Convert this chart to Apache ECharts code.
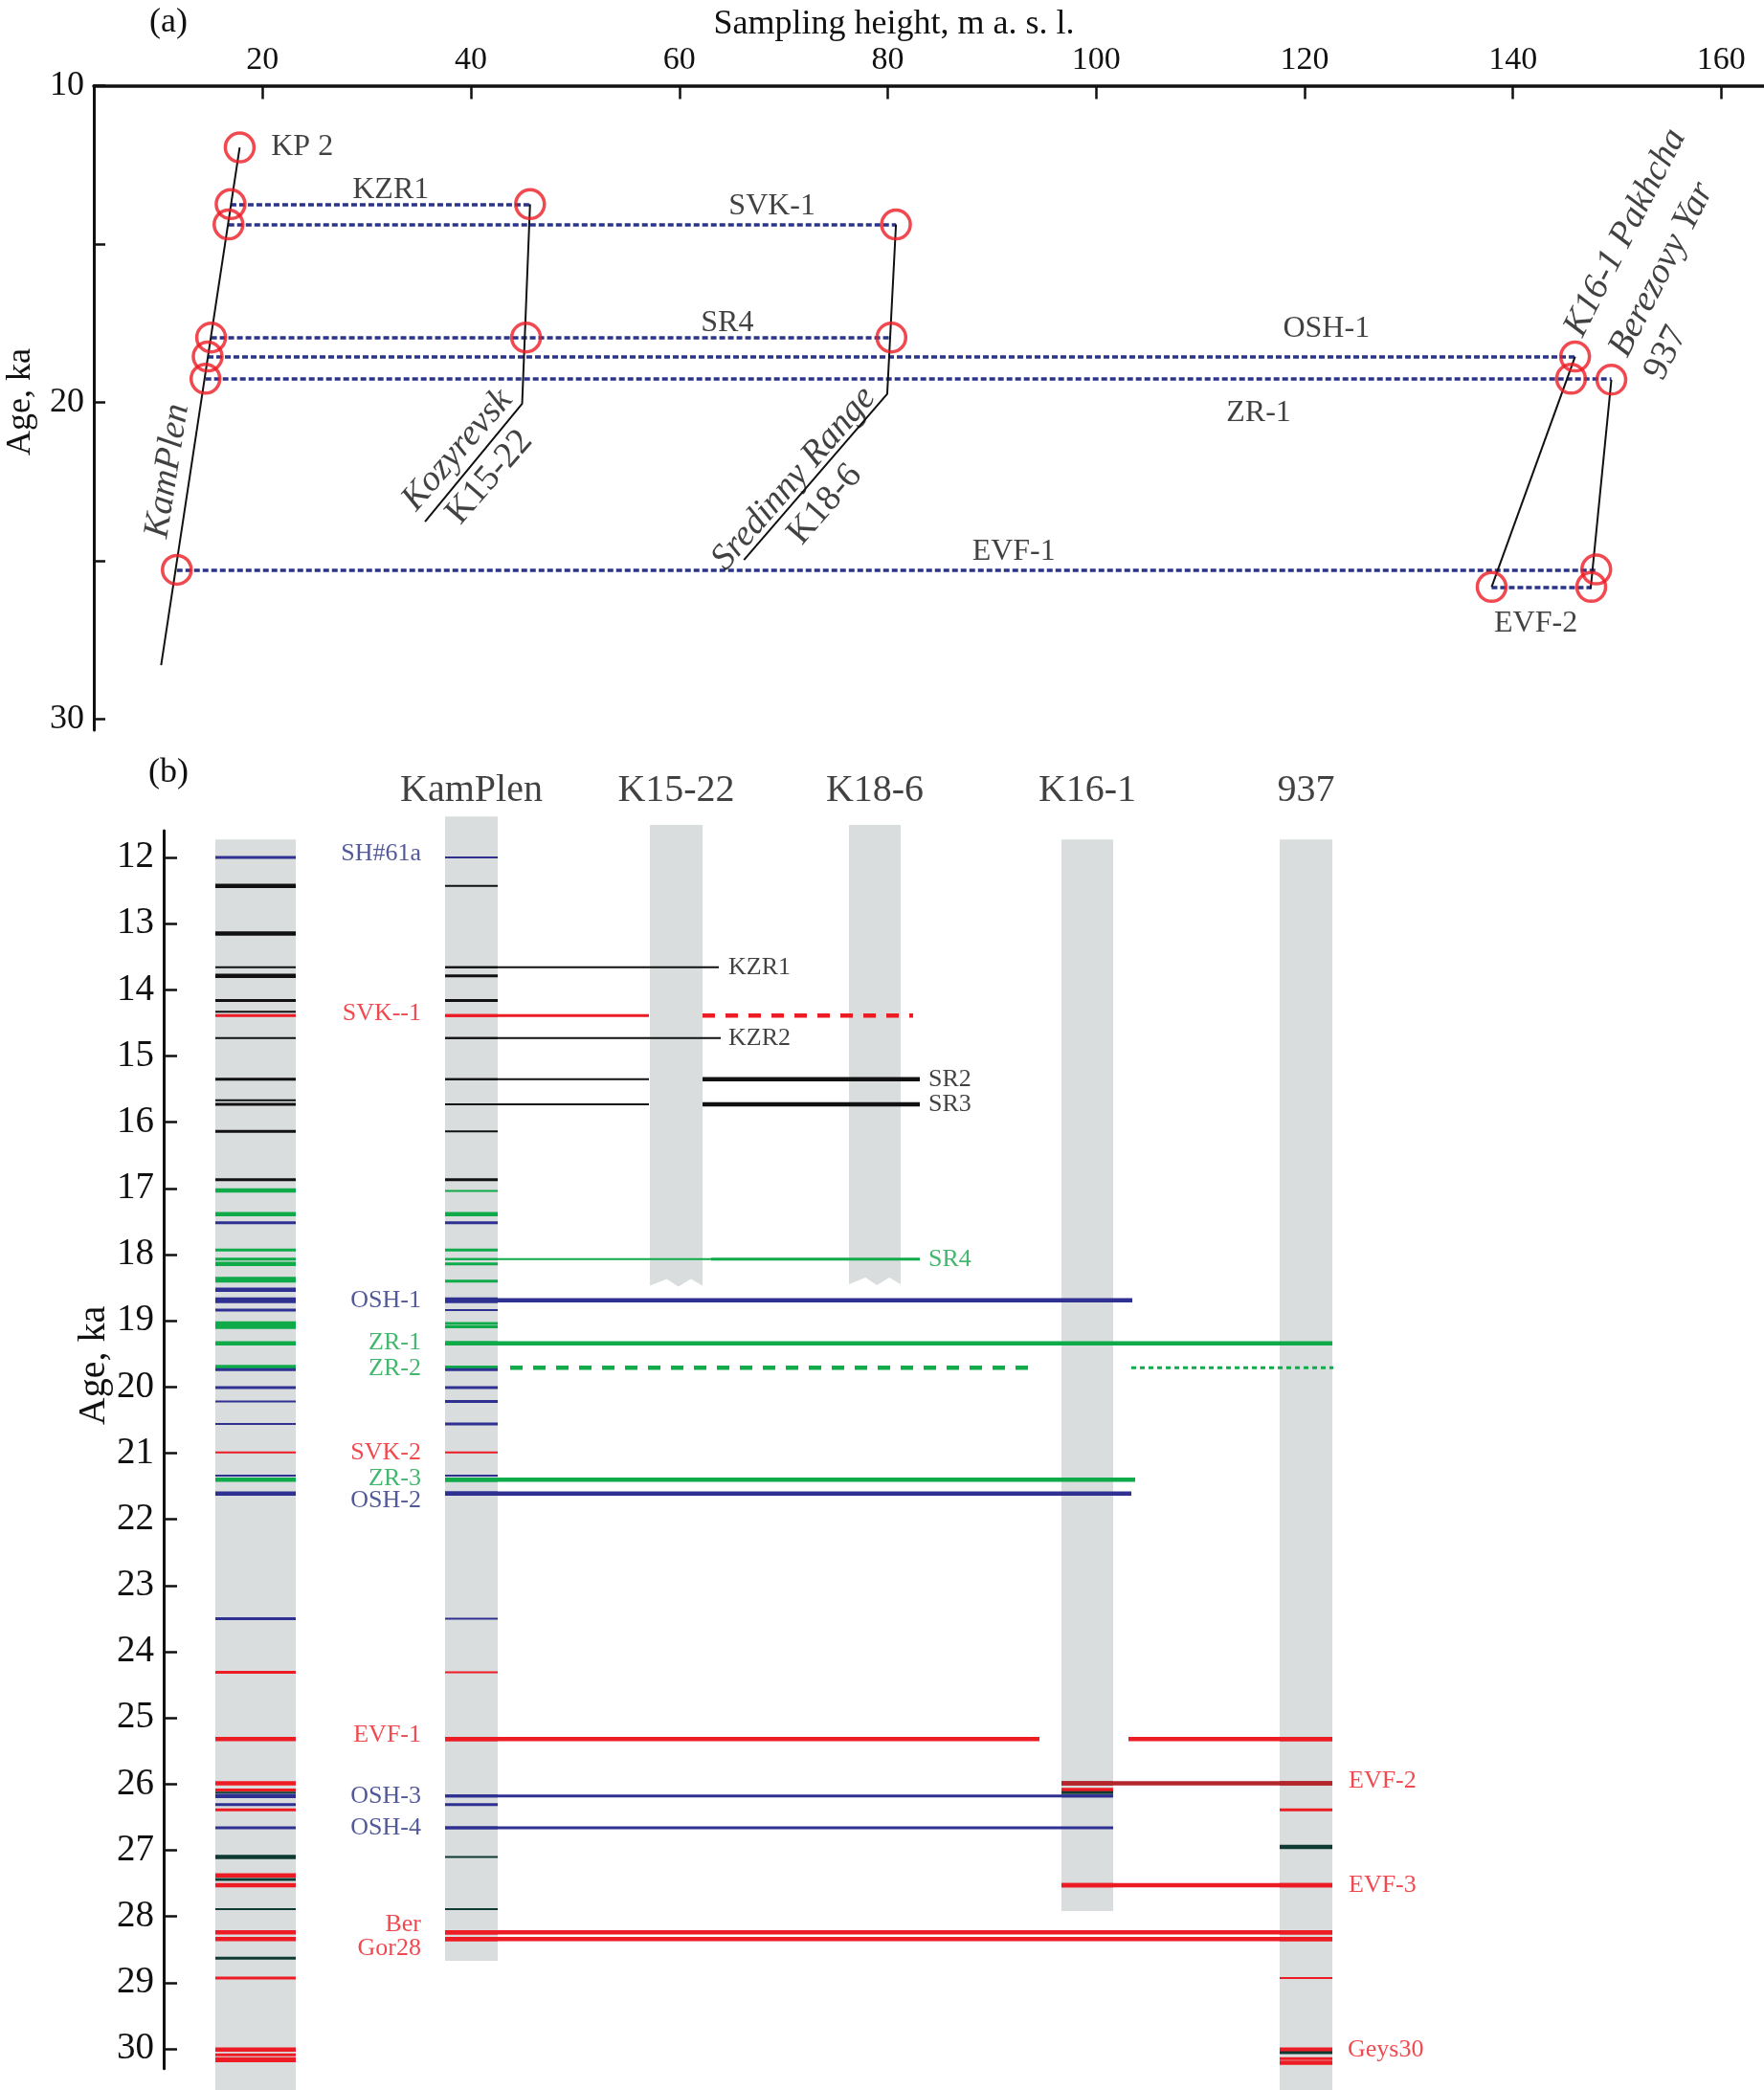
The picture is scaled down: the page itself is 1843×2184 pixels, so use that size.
<!DOCTYPE html>
<html><head><meta charset="utf-8">
<script src="https://cdn.jsdelivr.net/npm/echarts@6/dist/echarts.min.js"></script>
<style>html,body{margin:0;padding:0;background:#fff}#c{width:1843px;height:2184px}</style>
</head><body><div id="c"></div><script>
const FONT = '"Liberation Serif","Times New Roman",serif';

// ================= Panel (a) data =================
const xTicksA = [20, 40, 60, 80, 100, 120, 140, 160];
const yTicksA = [10, 15, 20, 25, 30];
const yLabelsA = [10, 20, 30];

// correlated tephra layers: age and sampling heights of the two end sites
const tephraNamesA = ['KZR1', 'SVK-1', 'SR4', 'OSH-1', 'ZR-1', 'EVF-1', 'EVF-2'];
const tephraAgesA  = [13.74, 14.38, 17.95, 18.55, 19.25, 25.28, 25.82];
const tephraLowH   = [16.93, 16.73, 15.06, 14.73, 14.52, 11.77, 137.96];
const tephraHighH  = [45.67, 80.79, 80.35, 145.97, 149.45, 148.0, 147.52];

// dated samples (red circles)
const sampleH   = [17.8, 16.93, 45.67, 16.73, 80.79, 15.06, 45.29, 80.35, 14.73, 145.97, 14.52, 145.58, 149.45, 11.77, 148.0, 137.96, 147.52];
const sampleAge = [11.95, 13.74, 13.74, 14.38, 14.38, 17.95, 17.95, 17.95, 18.55, 18.55, 19.25, 19.25, 19.28, 25.28, 25.27, 25.82, 25.82];

// section lines (height, age)
const kamPlenH = [17.8, 10.26],          kamPlenAge = [11.95, 28.29];
const k1522H   = [45.67, 44.91, 35.59],  k1522Age   = [13.74, 20.04, 23.76];
const k186H    = [80.79, 79.95, 66.2],   k186Age    = [14.38, 19.73, 24.97];
const k161H    = [145.97, 137.96],       k161Age    = [18.55, 25.82];
const b937H    = [149.45, 147.46],       b937Age    = [19.28, 25.88];

// text annotations of panel (a)
const annoTextA = ['KP 2', 'KZR1', 'SVK-1', 'SR4', 'OSH-1', 'ZR-1', 'EVF-1', 'EVF-2',
  'KamPlen', 'Kozyrevsk', 'K15-22', 'Sredinny Range', 'K18-6', 'K16-1 Pakhcha', 'Berezovy Yar', '937'];
// layout of the annotations (anchor in data space, rotation, italic)
const annoPosA = [[23.8, 11.95], [32.3, 13.29], [68.9, 13.82], [64.6, 17.49], [122.1, 17.67], [115.6, 20.32], [92.1, 24.72], [142.2, 26.98],
  [10.9, 22.16], [38.7, 21.5], [41.8, 22.36], [71.0, 22.4], [74.0, 23.22], [150.8, 14.64], [154.3, 15.8], [154.7, 18.44]];
const annoRotA = [0, 0, 0, 0, 0, 0, 0, 0, 81, 49, 49, 49, 49, 63, 63, 63];
const annoItalA = [0, 0, 0, 0, 0, 0, 0, 0, 1, 1, 0, 1, 0, 1, 1, 0];

// ================= Panel (b) data =================
const yTicksB = [12, 13, 14, 15, 16, 17, 18, 19, 20, 21, 22, 23, 24, 25, 26, 27, 28, 29, 30];
const colNames  = ['', 'KamPlen', 'K15-22', 'K18-6', 'K16-1', '937'];
const colTop    = [11.73, 11.38, 11.51, 11.51, 11.73, 11.73];
const colBottom = [30.64, 28.67, 18.47, 18.45, 27.92, 30.64];
const colTorn   = [0, 0, 1, 1, 0, 0];

// composite record
const compAges = [12.00, 12.43, 13.15, 13.66, 13.79, 14.16, 14.33, 14.39, 14.73, 15.35, 15.67, 15.73, 16.14, 16.87, 17.03, 17.39, 17.52, 17.93, 18.07, 18.14, 18.38, 18.53, 18.69, 18.84, 19.04, 19.09, 19.34, 19.70, 19.74, 20.01, 20.22, 20.56, 20.99, 21.34, 21.40, 21.61, 23.50, 24.31, 25.32, 25.99, 26.09, 26.13, 26.18, 26.31, 26.39, 26.66, 27.10, 27.38, 27.44, 27.53, 27.89, 28.24, 28.34, 28.63, 28.93, 30.01, 30.09, 30.15, 30.18];
const compKind = ['b','k','k','k','k','k','k','r','k','k','k','k','k','k','g','g','b','g','g','g','g','b','b','b','g','g','g','g','b','b','b','b','r','b','g','b','b','r','r','r','r','d','b','b','r','b','d','r','d','r','d','r','r','d','r','r','r','r','r'];
const compWeight = [2,3,3,1,3,2,1,2,1,2,1,2,2,2,3,3,2,2,2,3,4,3,4,2,3,3,3,3,2,2,1,1,1,1,3,3,2,2,3,3,2,1,3,2,2,2,3,3,2,3,1,3,3,2,2,3,2,2,2];

// KamPlen
const kamAges = [12.00, 12.43, 13.66, 13.79, 14.16, 14.39, 14.73, 15.35, 15.73, 16.14, 16.87, 17.04, 17.39, 17.52, 17.93, 18.07, 18.14, 18.40, 18.69, 18.84, 19.04, 19.09, 19.34, 19.70, 19.74, 20.01, 20.22, 20.56, 20.99, 21.34, 21.40, 21.61, 23.50, 24.31, 25.32, 26.18, 26.31, 26.66, 27.10, 27.89, 28.24, 28.34];
const kamKind = ['b','k','k','k','k','r','k','k','k','k','k','g','g','b','g','g','g','g','b','b','g','g','g','g','b','b','b','b','r','b','g','b','b','r','r','b','b','b','d','d','r','r'];
const kamWeight = [1,1,1,2,2,2,1,1,1,1,2,1,3,2,2,1,2,2,4,1,2,2,3,2,2,2,2,2,1,1,3,3,1,1,3,2,2,2,1,1,3,3];

// K16-1
const k161Ages = [25.99, 26.09, 26.13, 26.18, 26.66, 27.53];
const k161Kind = ['R','r','d','b','b','r'];
const k161Weight = [3,3,2,2,1,3];

// 937
const b937Ages = [25.32, 25.99, 26.39, 26.95, 27.53, 28.24, 28.34, 28.93, 30.01, 30.06, 30.15, 30.21];
const b937Kind = ['r','R','r','d','r','r','r','r','r','d','r','r'];
const b937Weight = [3,3,2,3,3,3,3,1,3,2,2,3];

// correlated tephra (extended lines)
const corrNames = ['KZR1','SVK-1','KZR2','SR2','SR3','SR4','OSH-1','ZR-1','ZR-2','ZR-3','OSH-2','EVF-1','EVF-2','OSH-3','OSH-4','EVF-3','Ber','Gor28'];
const corrAges  = [13.66, 14.39, 14.73, 15.35, 15.73, 18.07, 18.69, 19.34, 19.71, 21.40, 21.61, 25.32, 25.99, 26.18, 26.66, 27.53, 28.24, 28.34];
const corrKind  = ['k','r','k','k','k','g','b','g','g','g','b','r','R','b','b','r','r','r'];

// labels
const leftLabNames = ['SH#61a','SVK--1','OSH-1','ZR-1','ZR-2','SVK-2','ZR-3','OSH-2','EVF-1','OSH-3','OSH-4','Ber','Gor28'];
const leftLabAges  = [11.94, 14.36, 18.69, 19.33, 19.73, 20.99, 21.39, 21.72, 25.26, 26.18, 26.66, 28.13, 28.49];
const leftLabKind  = ['b','r','b','g','g','r','g','b','r','b','b','r','r'];
const rightLabNames = ['KZR1','KZR2','SR2','SR3','SR4','EVF-2','EVF-3','Geys30'];
const rightLabAges  = [13.66, 14.73, 15.35, 15.73, 18.07, 25.96, 27.53, 30.02];
const rightLabKind  = ['k','k','k','k','g','r','r','r'];

// ================= layout (panel b horizontal placement, px units) =================
const colLeft  = [225, 465, 679, 887, 1109, 1337];
const colRight = [309, 520, 734, 941, 1163, 1392];
// segments of each correlation line: [x1, x2, weight, dash]  (dash: 0 solid, 1 dashed, 2 dotted)
const corrSegs = [
  [[465, 751, 1, 0]],
  [[465, 678, 2, 0], [734, 954, 3, 1]],
  [[465, 753, 1, 0]],
  [[465, 678, 1, 0], [734, 961, 3, 0]],
  [[465, 678, 1, 0], [734, 961, 3, 0]],
  [[465, 743, 1, 0], [743, 961, 2, 0]],
  [[465, 1183, 3, 0]],
  [[465, 1392, 3, 0]],
  [[533, 1082, 3, 1], [1182, 1393, 2, 2]],
  [[465, 1186, 3, 0]],
  [[465, 1182, 3, 0]],
  [[465, 1086, 3, 0], [1179, 1392, 3, 0]],
  [[1109, 1392, 3, 0]],
  [[465, 1163, 2, 0]],
  [[465, 1163, 2, 0]],
  [[1109, 1392, 3, 0]],
  [[465, 1392, 3, 0]],
  [[465, 1392, 3, 0]]
];
const leftLabX = 440;
const rightLabX = [761, 761, 970, 970, 970, 1409, 1409, 1408];
const headerAge = 10.99;
const AXB_X = 171;

// ================= styles =================
const KINDS = ['k','b','g','r','R','d'];
const PAL = ['#111111', '#2e3192', '#0faa4a', '#ed1c24', '#b2262c', '#0e3a33'];
const TXTC = {k:'#111111', b:'#27307f', g:'#14a548', r:'#ec1c24'};
const WPX = [0, 2, 3, 4.5, 6];
const DASHES = [null, [13, 11], [5, 4]];
const INK = '#111111';
const NAVY = '#2b3488';

// ================= build =================
const chart = echarts.init(document.getElementById('c'), null, {renderer: 'canvas'});

const series = [];
series.push({
  type: 'lines', coordinateSystem: 'cartesian2d', xAxisIndex: 0, yAxisIndex: 0, z: 2, silent: true,
  lineStyle: {color: NAVY, width: 3.5, type: [6, 3], opacity: 1, curveness: 0},
  data: tephraNamesA.map((n, i) => ({name: n, coords: [[tephraLowH[i], tephraAgesA[i]], [tephraHighH[i], tephraAgesA[i]]]}))
});
[[kamPlenH, kamPlenAge], [k1522H, k1522Age], [k186H, k186Age], [k161H, k161Age], [b937H, b937Age]].forEach(([h, a]) => {
  series.push({type: 'line', xAxisIndex: 0, yAxisIndex: 0, z: 3, silent: true, symbol: 'none',
    lineStyle: {color: '#111', width: 2}, data: h.map((x, i) => [x, a[i]])});
});
series.push({type: 'scatter', xAxisIndex: 0, yAxisIndex: 0, z: 5, silent: true, symbol: 'circle', symbolSize: 30,
  itemStyle: {color: 'rgba(0,0,0,0)', borderColor: '#ed1c24', borderWidth: 3.5},
  data: sampleH.map((h, i) => [h, sampleAge[i]])});
series.push({type: 'scatter', xAxisIndex: 0, yAxisIndex: 0, z: 6, silent: true, symbolSize: 0, clip: false,
  itemStyle: {color: 'rgba(0,0,0,0)'},
  label: {show: true, position: 'inside', formatter: '{b}', color: INK, fontFamily: FONT, fontSize: 32},
  data: annoTextA.map((t, i) => ({name: t, value: annoPosA[i],
    label: {rotate: annoRotA[i], fontStyle: annoItalA[i] ? 'italic' : 'normal', fontSize: i >= 8 ? 38 : 32}}))
});

series.push({type: 'custom', xAxisIndex: 1, yAxisIndex: 1, z: 1, silent: true, clip: false,
  data: colNames.map((_, i) => [i]),
  renderItem: (params, api) => {
    const i = api.value(0);
    const pa = api.coord([colLeft[i], colTop[i]]);
    const pb = api.coord([colRight[i], colBottom[i]]);
    const x0 = pa[0], x1 = pb[0], y0 = pa[1], y1 = pb[1], w = x1 - x0;
    let pts;
    if (colTorn[i]) {
      pts = [[x0, y0], [x1, y0], [x1, y1], [x0 + w * 0.78, y1 - 7], [x0 + w * 0.54, y1 + 1], [x0 + w * 0.32, y1 - 7], [x0, y1]];
    } else {
      pts = [[x0, y0], [x1, y0], [x1, y1], [x0, y1]];
    }
    return {type: 'polygon', shape: {points: pts}, style: {fill: '#d9dddd'}};
  }
});

const bandData = [];
function addCol(ci, ages, kinds, weights) {
  ages.forEach((a, j) => bandData.push([colLeft[ci], colRight[ci], a, KINDS.indexOf(kinds[j]), weights[j], 0]));
}
addCol(0, compAges, compKind, compWeight);
addCol(1, kamAges, kamKind, kamWeight);
addCol(4, k161Ages, k161Kind, k161Weight);
addCol(5, b937Ages, b937Kind, b937Weight);
corrAges.forEach((a, i) => corrSegs[i].forEach(s => bandData.push([s[0], s[1], a, KINDS.indexOf(corrKind[i]), s[2], s[3]])));

series.push({type: 'custom', xAxisIndex: 1, yAxisIndex: 1, z: 3, silent: true, clip: false,
  data: bandData,
  renderItem: (params, api) => {
    const a = api.coord([api.value(0), api.value(2)]);
    const b = api.coord([api.value(1), api.value(2)]);
    const d = DASHES[api.value(5)];
    return {type: 'line', shape: {x1: a[0], y1: a[1], x2: b[0], y2: b[1]},
      style: {stroke: PAL[api.value(3)], lineWidth: WPX[api.value(4)], lineDash: d}};
  }
});

series.push({type: 'scatter', xAxisIndex: 1, yAxisIndex: 1, z: 6, silent: true, symbolSize: 0, clip: false,
  itemStyle: {color: 'rgba(0,0,0,0)'},
  label: {show: true, position: 'left', distance: 0, formatter: '{b}', fontFamily: FONT, fontSize: 26},
  data: leftLabNames.map((n, i) => ({name: n, value: [leftLabX, leftLabAges[i]], label: {color: TXTC[leftLabKind[i]]}}))
});
series.push({type: 'scatter', xAxisIndex: 1, yAxisIndex: 1, z: 6, silent: true, symbolSize: 0, clip: false,
  itemStyle: {color: 'rgba(0,0,0,0)'},
  label: {show: true, position: 'right', distance: 0, formatter: '{b}', fontFamily: FONT, fontSize: 26},
  data: rightLabNames.map((n, i) => ({name: n, value: [rightLabX[i], rightLabAges[i]], label: {color: TXTC[rightLabKind[i]]}}))
});
series.push({type: 'scatter', xAxisIndex: 1, yAxisIndex: 1, z: 6, silent: true, symbolSize: 0, clip: false,
  itemStyle: {color: 'rgba(0,0,0,0)'},
  label: {show: true, position: 'inside', formatter: '{b}', fontFamily: FONT, fontSize: 40, color: INK},
  data: colNames.map((n, i) => ({name: n, value: [(colLeft[i] + colRight[i]) / 2, headerAge]})).filter(d => d.name)
});

const option = {
  animation: false,
  backgroundColor: '#ffffff',
  textStyle: {fontFamily: FONT},
  grid: [
    {left: 98, top: 89.5, width: 1745, height: 673.5, containLabel: false, outerBoundsMode: 'none'},
    {left: AXB_X, top: 868, width: 1843 - AXB_X, height: 1293.7, containLabel: false, outerBoundsMode: 'none'}
  ],
  xAxis: [
    {type: 'value', gridIndex: 0, position: 'top', min: 3.8, max: 164.1,
      axisLine: {show: true, onZero: false, lineStyle: {color: INK, width: 3.5}},
      axisTick: {show: true, inside: true, length: 14, customValues: xTicksA, lineStyle: {color: INK, width: 2.5}},
      axisLabel: {show: true, customValues: xTicksA, margin: 9, color: INK, fontSize: 34, fontFamily: FONT},
      splitLine: {show: false}},
    {type: 'value', gridIndex: 1, min: AXB_X, max: 1843, show: false}
  ],
  yAxis: [
    {type: 'value', gridIndex: 0, inverse: true, min: 10, max: 30.34,
      axisLine: {show: true, onZero: false, lineStyle: {color: INK, width: 3}},
      axisTick: {show: true, inside: true, length: 12, customValues: yTicksA, lineStyle: {color: INK, width: 2.5}},
      axisLabel: {show: true, customValues: yLabelsA, margin: 10, color: INK, fontSize: 36, fontFamily: FONT},
      splitLine: {show: false}},
    {type: 'value', gridIndex: 1, inverse: true, min: 11.595, max: 30.3,
      axisLine: {show: true, onZero: false, lineStyle: {color: INK, width: 3}},
      axisTick: {show: true, inside: true, length: 14, customValues: yTicksB, lineStyle: {color: INK, width: 2.5}},
      axisLabel: {show: true, customValues: yTicksB, margin: 10, color: INK, fontSize: 39, fontFamily: FONT},
      splitLine: {show: false}}
  ],
  graphic: [
    {type: 'text', x: 176, y: 24, style: {text: '(a)', font: '36px ' + FONT, fill: INK, align: 'center', verticalAlign: 'middle'}},
    {type: 'text', x: 934, y: 26, style: {text: 'Sampling height, m a. s. l.', font: '36px ' + FONT, fill: INK, align: 'center', verticalAlign: 'middle'}},
    {type: 'text', x: 22, y: 420, rotation: Math.PI / 2, style: {text: 'Age, ka', font: '36px ' + FONT, fill: INK, align: 'center', verticalAlign: 'middle'}},
    {type: 'text', x: 176, y: 808, style: {text: '(b)', font: '36px ' + FONT, fill: INK, align: 'center', verticalAlign: 'middle'}},
    {type: 'text', x: 98, y: 1427, rotation: Math.PI / 2, style: {text: 'Age, ka', font: '40px ' + FONT, fill: INK, align: 'center', verticalAlign: 'middle'}}
  ],
  series: series
};
chart.setOption(option);
</script></body></html>
